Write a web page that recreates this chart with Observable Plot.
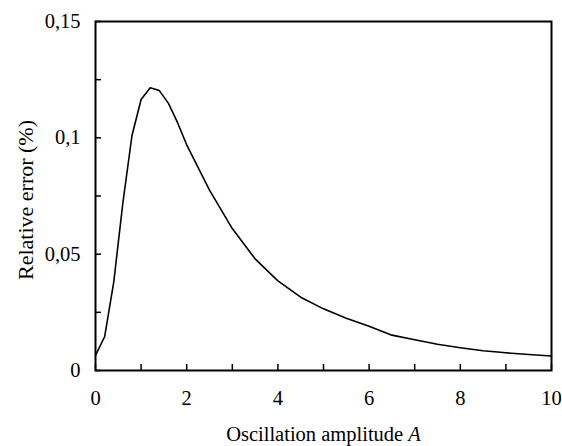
<!DOCTYPE html>
<html>
<head>
<meta charset="utf-8">
<script src="https://cdn.jsdelivr.net/npm/d3@7"></script>
<script src="https://cdn.jsdelivr.net/npm/@observablehq/plot@0.6"></script>
<style>
  html, body { margin: 0; padding: 0; background: #fff; }
  svg { display: block; }
  svg text, svg tspan { font-family: "Liberation Serif", "Times New Roman", serif !important; }
</style>
</head>
<body>
<div id="chart"></div>
<script>
const amplitude = [0, 0.2, 0.4, 0.6, 0.8, 1.0, 1.2, 1.4, 1.6, 1.8, 2.0, 2.5, 3.0, 3.5, 4.0, 4.5, 5.0, 5.5, 6.0, 6.5, 7.0, 7.5, 8.0, 8.5, 9.0, 9.5, 10];
const relError = [0.0065, 0.0145, 0.038, 0.072, 0.101, 0.1165, 0.1215, 0.1203, 0.1148, 0.1065, 0.097, 0.0775, 0.061, 0.048, 0.0385, 0.0315, 0.0265, 0.0225, 0.019, 0.0152, 0.0132, 0.0113, 0.0098, 0.0085, 0.0076, 0.0069, 0.0062];
const xTickValues = [0, 1, 2, 3, 4, 5, 6, 7, 8, 9, 10];
const xLabelValues = [0, 2, 4, 6, 8, 10];
const yTickValues = [0, 0.025, 0.05, 0.075, 0.1, 0.125, 0.15];
const yLabelValues = [0, 0.05, 0.1, 0.15];
const xTitle = "Oscillation amplitude A";
const yTitle = "Relative error (%)";

const data = amplitude.map((a, i) => ({a, e: relError[i]}));
const fmt = v => String(v).replace(".", ",");
const font = "Liberation Serif";

const chart = Plot.plot({
  width: 562,
  height: 446,
  marginLeft: 95,
  marginRight: 11,
  marginTop: 21,
  marginBottom: 76,
  style: {fontFamily: font, fontSize: "20px", color: "#000", background: "#fff"},
  x: {domain: [0, 10]},
  y: {domain: [0, 0.15]},
  marks: [
    Plot.axisX(xTickValues, {tickSize: -6, tickFormat: () => "", strokeWidth: 1.5, label: null}),
    Plot.axisX(xLabelValues, {tickSize: 0, tickPadding: 20, tickFormat: fmt, fontSize: 20.5, fontFamily: font, label: null}),
    Plot.axisY(yTickValues, {tickSize: -6, tickFormat: () => "", strokeWidth: 1.5, label: null}),
    Plot.axisY(yLabelValues, {tickSize: 0, tickPadding: 15, tickFormat: fmt, fontSize: 20.5, fontFamily: font, label: null}),
    Plot.frame({stroke: "#000", strokeWidth: 2}),
    Plot.line(data, {x: "a", y: "e", stroke: "#000", strokeWidth: 1.6}),
    Plot.text([xTitle], {text: d => d, frameAnchor: "bottom", textAnchor: "middle", dy: 70, lineAnchor: "bottom", fontSize: 20.5, fontFamily: font, fill: "#000"}),
    Plot.text([yTitle], {text: d => d, frameAnchor: "left", textAnchor: "middle", dx: -70, dy: 4, rotate: -90, fontSize: 22, fontFamily: font, fill: "#000"})
  ]
});

// italicize the trailing "A" in the x title
d3.select(chart).selectAll("text").each(function() {
  if (this.textContent === xTitle) {
    const el = d3.select(this);
    el.text(null);
    el.append("tspan").text("Oscillation amplitude ");
    el.append("tspan").attr("font-style", "italic").text("A");
  }
});

document.getElementById("chart").appendChild(chart);
</script>
</body>
</html>
